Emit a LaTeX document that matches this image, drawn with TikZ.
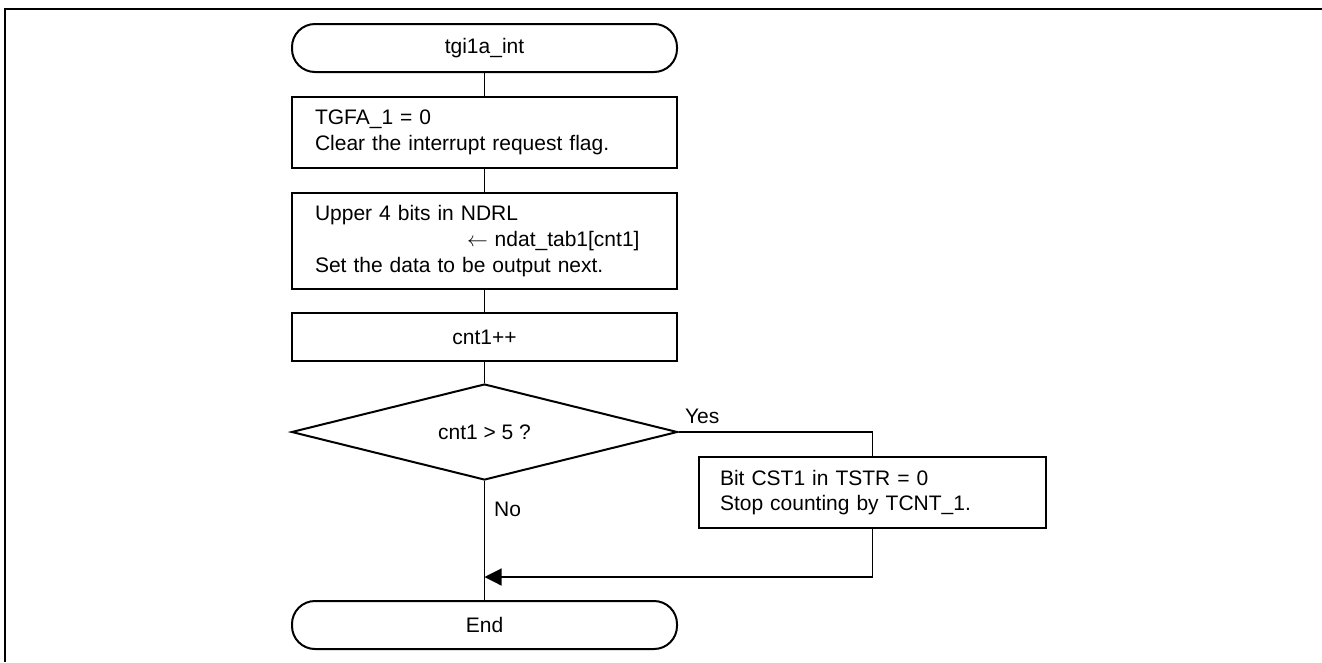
\documentclass[tikz,border=0pt]{standalone}
\usepackage{fontspec}
\setmainfont{Liberation Sans}
\usetikzlibrary{shapes.geometric,arrows.meta}
\begin{document}
\begin{tikzpicture}[x=1pt,y=1pt,
  every node/.style={font=\fontsize{21}{25.7}\selectfont},
  term/.style={draw,line width=2pt,rounded corners=23pt,minimum width=385pt,minimum height=48pt,inner sep=0pt},
  procbox/.style={draw,line width=2pt,align=left,text width=339pt,inner xsep=23pt,inner ysep=0pt,minimum height=#1},
  decbox/.style={draw,line width=2pt,diamond,aspect=4,minimum width=386pt,minimum height=96pt,inner sep=0pt},
  conn/.style={line width=1.2pt},
  lbl/.style={inner sep=0pt}
]
\useasboundingbox (0,0) rectangle (1322,-662);
\draw[line width=2.5pt] (5,-662) -- (5,-9) -- (1322,-9);

\node[term] (start) at (484.5,-48) {tgi1a\_int};
\node[procbox=71pt] (b1) at (484.5,-132.5) {TGFA\_1 = 0\\Clear the interrupt request flag.};
\node[procbox=96pt] (b2) at (484.5,-241) {Upper 4 bits in NDRL\\\hspace*{152pt}$\leftarrow$\ ndat\_tab1[cnt1]\\Set the data to be output next.};
\node[draw,line width=2pt,minimum width=385pt,minimum height=48pt,inner sep=0pt] (b3) at (484.5,-337) {cnt1++};
\node[decbox] (dec) at (484.5,-432) {cnt1 > 5 ?};
\node[draw,line width=2pt,align=left,text width=305pt,inner xsep=21pt,inner ysep=0pt,minimum height=71pt] (b4) at (872.5,-492.5) {Bit CST1 in TSTR = 0\\Stop counting by TCNT\_1.};
\node[term] (end) at (484.5,-625) {End};
\coordinate (merge) at (484.5,-577);

\draw[conn] (start) -- (b1);
\draw[conn] (b1) -- (b2);
\draw[conn] (b2) -- (b3);
\draw[conn] (b3) -- (dec);
\draw[conn] (dec.east) -- node[lbl,pos=0,anchor=base west,xshift=6pt,yshift=9pt] {Yes} (dec.east -| b4.north) -- (b4.north);
\draw[conn] (dec.south) -- node[lbl,pos=0,anchor=base west,xshift=9pt,yshift=-35pt] {No} (end.north);
\draw[conn,-{Triangle[length=17pt,width=17pt]}] (b4.south) |- (merge);
\end{tikzpicture}
\end{document}
